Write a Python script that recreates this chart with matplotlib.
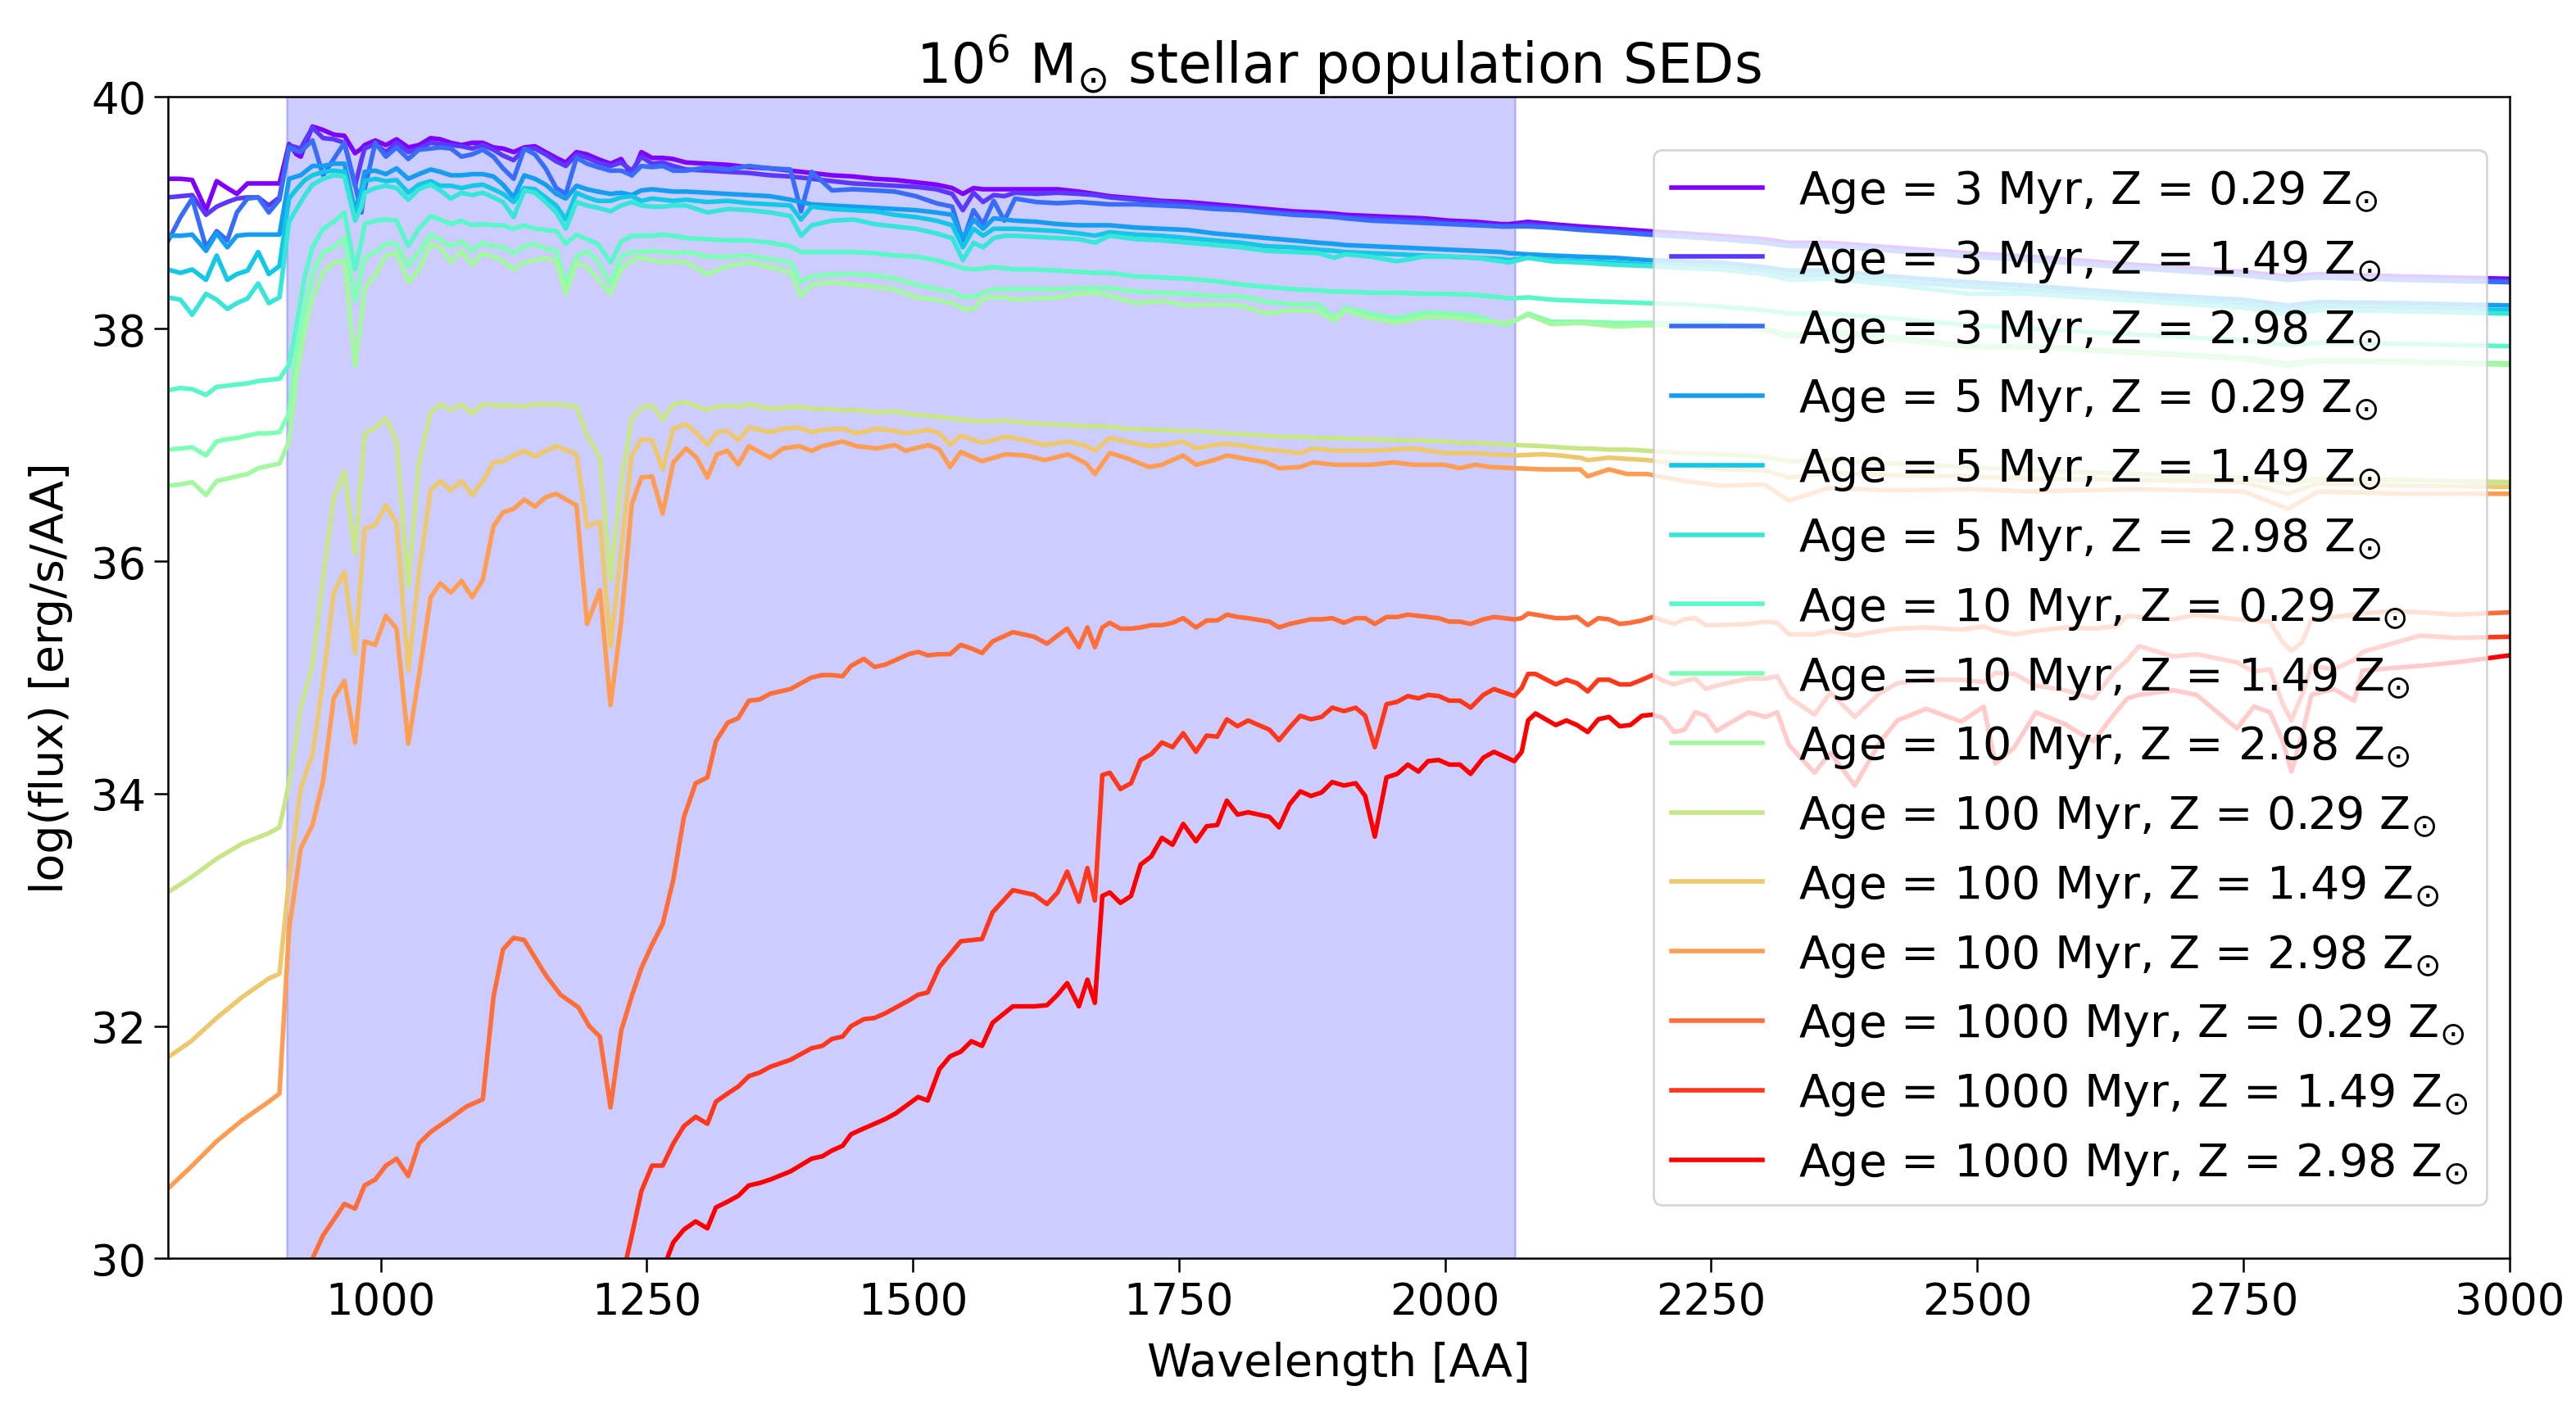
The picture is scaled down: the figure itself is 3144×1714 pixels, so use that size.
import numpy as np
import matplotlib
matplotlib.use("Agg")
import matplotlib.pyplot as plt

# ---------------- data ----------------
ages = [3, 3, 3, 5, 5, 5, 10, 10, 10, 100, 100, 100, 1000, 1000, 1000]
metals = ["0.29", "1.49", "2.98"] * 5

# wavelength grid for the young (3-10 Myr) populations
wl_young = [800, 812, 823, 836, 846, 856, 865, 875, 885, 895,
            905, 914, 921, 925, 929, 936, 946, 956, 966, 976,
            982, 985, 995, 1005, 1015, 1026, 1036, 1047, 1056, 1066,
            1076, 1086, 1096, 1106, 1115, 1125, 1135, 1145, 1155, 1165,
            1174, 1184, 1194, 1204, 1216, 1226, 1236, 1245, 1255, 1265,
            1275, 1287, 1307, 1326, 1346, 1366, 1385, 1395, 1405, 1424,
            1444, 1464, 1483, 1503, 1522, 1537, 1547, 1557, 1566, 1576,
            1586, 1596, 1616, 1636, 1656, 1671, 1685, 1710, 1734, 1758,
            1783, 1808, 1832, 1857, 1881, 1896, 1906, 1930, 1955, 1980,
            2004, 2029, 2053, 2060, 2078, 2100, 2127, 2160, 2190, 2225,
            2258, 2300, 2323, 2360, 2420, 2493, 2550, 2650, 2750, 2792,
            2820, 2900, 3000]

flux_3myr_029 = [39.29, 39.29, 39.28, 39.02, 39.27, 39.21, 39.16, 39.25, 39.25, 39.25,
                 39.25, 39.59, 39.50, 39.48, 39.58, 39.74, 39.71, 39.67, 39.66, 39.51,
                 39.55, 39.58, 39.62, 39.58, 39.63, 39.56, 39.58, 39.64, 39.63, 39.60,
                 39.58, 39.60, 39.60, 39.56, 39.55, 39.52, 39.56, 39.57, 39.52, 39.47,
                 39.43, 39.52, 39.50, 39.46, 39.42, 39.46, 39.32, 39.52, 39.47, 39.47,
                 39.46, 39.43, 39.42, 39.41, 39.39, 39.38, 39.36, 39.35, 39.34, 39.32,
                 39.31, 39.29, 39.28, 39.26, 39.24, 39.21, 39.16, 39.21, 39.20, 39.20,
                 39.20, 39.20, 39.20, 39.20, 39.18, 39.16, 39.14, 39.12, 39.10, 39.09,
                 39.07, 39.05, 39.03, 39.01, 39.00, 38.99, 38.98, 38.97, 38.96, 38.95,
                 38.93, 38.92, 38.90, 38.90, 38.92, 38.90, 38.88, 38.86, 38.84, 38.82,
                 38.80, 38.77, 38.74, 38.74, 38.70, 38.65, 38.62, 38.55, 38.49, 38.45,
                 38.47, 38.45, 38.43]
flux_3myr_149 = [39.13, 39.14, 39.15, 38.98, 39.05, 39.09, 39.12, 39.13, 39.13, 39.06,
                 39.13, 39.58, 39.56, 39.55, 39.62, 39.73, 39.64, 39.63, 39.60, 39.23,
                 39.45, 39.55, 39.59, 39.52, 39.60, 39.52, 39.55, 39.60, 39.59, 39.58,
                 39.57, 39.55, 39.58, 39.54, 39.49, 39.45, 39.55, 39.55, 39.50, 39.44,
                 39.40, 39.50, 39.47, 39.43, 39.40, 39.43, 39.36, 39.48, 39.42, 39.43,
                 39.40, 39.37, 39.36, 39.35, 39.34, 39.32, 39.31, 39.30, 39.29, 39.27,
                 39.25, 39.24, 39.23, 39.22, 39.20, 39.16, 39.02, 39.17, 39.09, 39.15,
                 39.14, 39.17, 39.16, 39.17, 39.16, 39.15, 39.13, 39.11, 39.09, 39.07,
                 39.05, 39.03, 39.01, 38.99, 38.98, 38.97, 38.96, 38.95, 38.94, 38.93,
                 38.91, 38.90, 38.88, 38.88, 38.90, 38.88, 38.86, 38.84, 38.82, 38.80,
                 38.78, 38.75, 38.72, 38.72, 38.68, 38.63, 38.60, 38.53, 38.47, 38.43,
                 38.45, 38.43, 38.41]
flux_3myr_298 = [38.75, 38.96, 39.12, 38.70, 38.84, 38.76, 39.00, 39.12, 39.13, 39.00,
                 39.11, 39.56, 39.53, 39.52, 39.56, 39.62, 39.32, 39.46, 39.60, 39.24,
                 39.00, 39.20, 39.60, 39.48, 39.56, 39.46, 39.54, 39.55, 39.56, 39.55,
                 39.48, 39.50, 39.54, 39.48, 39.38, 39.29, 39.55, 39.50, 39.38, 39.21,
                 39.16, 39.47, 39.42, 39.39, 39.36, 39.36, 39.32, 39.40, 39.39, 39.40,
                 39.36, 39.36, 39.39, 39.37, 39.40, 39.38, 39.37, 39.01, 39.35, 39.19,
                 39.20, 39.19, 39.18, 39.14, 39.08, 39.05, 38.75, 39.02, 38.90, 39.10,
                 38.93, 39.12, 39.09, 39.08, 39.09, 39.08, 39.07, 39.07, 39.06, 39.05,
                 39.03, 39.02, 39.00, 38.98, 38.97, 38.96, 38.95, 38.93, 38.92, 38.91,
                 38.90, 38.89, 38.88, 38.88, 38.88, 38.87, 38.85, 38.83, 38.81, 38.79,
                 38.77, 38.74, 38.71, 38.71, 38.67, 38.62, 38.59, 38.52, 38.46, 38.42,
                 38.44, 38.42, 38.40]
flux_5myr_029 = [38.80, 38.80, 38.81, 38.67, 38.82, 38.70, 38.80, 38.81, 38.81, 38.81,
                 38.81, 39.29, 39.31, 39.32, 39.35, 39.40, 39.40, 39.42, 39.42, 39.01,
                 39.20, 39.35, 39.36, 39.33, 39.38, 39.29, 39.33, 39.37, 39.35, 39.32,
                 39.32, 39.33, 39.33, 39.31, 39.24, 39.13, 39.32, 39.29, 39.24, 39.16,
                 39.12, 39.23, 39.20, 39.18, 39.16, 39.17, 39.15, 39.19, 39.20, 39.19,
                 39.18, 39.18, 39.17, 39.16, 39.15, 39.14, 39.11, 39.09, 39.07, 39.06,
                 39.05, 39.04, 39.03, 39.02, 39.00, 38.98, 38.78, 38.94, 38.86, 38.95,
                 38.94, 38.93, 38.92, 38.90, 38.89, 38.89, 38.89, 38.87, 38.86, 38.85,
                 38.82, 38.80, 38.78, 38.76, 38.74, 38.73, 38.72, 38.71, 38.70, 38.69,
                 38.68, 38.67, 38.66, 38.65, 38.64, 38.63, 38.62, 38.61, 38.59, 38.58,
                 38.57, 38.53, 38.50, 38.50, 38.45, 38.40, 38.37, 38.30, 38.25, 38.20,
                 38.23, 38.22, 38.20]
flux_5myr_149 = [38.51, 38.48, 38.51, 38.42, 38.63, 38.42, 38.47, 38.50, 38.66, 38.47,
                 38.54, 39.12, 39.20, 39.24, 39.28, 39.32, 39.35, 39.36, 39.35, 38.97,
                 39.15, 39.27, 39.29, 39.27, 39.28, 39.17, 39.24, 39.27, 39.23, 39.23,
                 39.21, 39.23, 39.24, 39.20, 39.16, 39.09, 39.21, 39.20, 39.13, 39.06,
                 38.94, 39.17, 39.13, 39.10, 39.10, 39.13, 39.14, 39.10, 39.12, 39.11,
                 39.10, 39.11, 39.09, 39.10, 39.08, 39.07, 39.06, 38.94, 39.05, 39.03,
                 39.02, 39.01, 38.98, 38.96, 38.93, 38.89, 38.70, 38.86, 38.80, 38.86,
                 38.86, 38.86, 38.85, 38.84, 38.82, 38.80, 38.83, 38.81, 38.80, 38.78,
                 38.76, 38.74, 38.71, 38.70, 38.68, 38.67, 38.66, 38.65, 38.64, 38.63,
                 38.62, 38.61, 38.60, 38.59, 38.61, 38.59, 38.58, 38.57, 38.55, 38.54,
                 38.53, 38.49, 38.46, 38.46, 38.41, 38.36, 38.33, 38.27, 38.21, 38.16,
                 38.19, 38.18, 38.16]
flux_5myr_298 = [38.27, 38.25, 38.12, 38.30, 38.25, 38.17, 38.22, 38.26, 38.39, 38.22,
                 38.27, 38.92, 39.03, 39.09, 39.15, 39.24, 39.29, 39.32, 39.31, 38.93,
                 39.05, 39.17, 39.21, 39.23, 39.21, 39.11, 39.20, 39.24, 39.19, 39.12,
                 39.17, 39.15, 39.17, 39.13, 39.09, 38.96, 39.19, 39.17, 39.09, 39.00,
                 38.86, 39.09, 39.06, 39.04, 39.01, 39.06, 39.09, 39.06, 39.05, 39.05,
                 39.06, 39.06, 39.00, 39.03, 39.02, 39.00, 38.97, 38.80, 38.89, 38.93,
                 38.94, 38.90, 38.88, 38.86, 38.82, 38.78, 38.59, 38.74, 38.70, 38.78,
                 38.80, 38.80, 38.79, 38.78, 38.77, 38.74, 38.80, 38.77, 38.76, 38.74,
                 38.72, 38.70, 38.67, 38.66, 38.65, 38.61, 38.64, 38.62, 38.58, 38.62,
                 38.62, 38.61, 38.58, 38.57, 38.61, 38.58, 38.57, 38.55, 38.54, 38.52,
                 38.51, 38.47, 38.42, 38.43, 38.38, 38.30, 38.30, 38.24, 38.18, 38.12,
                 38.16, 38.15, 38.13]
flux_10myr_029 = [37.47, 37.49, 37.48, 37.43, 37.50, 37.51, 37.52, 37.53, 37.55, 37.56,
                  37.57, 37.69, 38.03, 38.25, 38.46, 38.70, 38.86, 38.92, 39.00, 38.51,
                  38.75, 38.90, 38.93, 38.94, 38.93, 38.71, 38.86, 38.97, 38.94, 38.90,
                  38.93, 38.89, 38.90, 38.89, 38.89, 38.86, 38.89, 38.86, 38.85, 38.84,
                  38.73, 38.81, 38.77, 38.73, 38.57, 38.75, 38.80, 38.80, 38.80, 38.81,
                  38.80, 38.78, 38.77, 38.76, 38.76, 38.74, 38.71, 38.66, 38.66, 38.66,
                  38.66, 38.65, 38.63, 38.62, 38.59, 38.55, 38.52, 38.51, 38.52, 38.53,
                  38.52, 38.51, 38.51, 38.50, 38.49, 38.48, 38.48, 38.45, 38.44, 38.43,
                  38.41, 38.38, 38.36, 38.34, 38.33, 38.32, 38.32, 38.31, 38.31, 38.30,
                  38.30, 38.29, 38.27, 38.26, 38.27, 38.25, 38.24, 38.23, 38.22, 38.21,
                  38.19, 38.16, 38.13, 38.13, 38.09, 38.03, 38.00, 37.95, 37.90, 37.86,
                  37.88, 37.87, 37.85]
flux_10myr_149 = [36.96, 36.97, 36.98, 36.91, 37.03, 37.05, 37.06, 37.08, 37.10, 37.10,
                  37.11, 37.27, 37.81, 38.00, 38.19, 38.47, 38.66, 38.70, 38.78, 38.24,
                  38.50, 38.61, 38.66, 38.73, 38.73, 38.54, 38.66, 38.81, 38.77, 38.71,
                  38.75, 38.67, 38.74, 38.71, 38.70, 38.65, 38.71, 38.73, 38.69, 38.67,
                  38.38, 38.62, 38.67, 38.58, 38.39, 38.62, 38.66, 38.66, 38.67, 38.66,
                  38.65, 38.66, 38.62, 38.62, 38.63, 38.60, 38.57, 38.40, 38.45, 38.47,
                  38.47, 38.46, 38.43, 38.38, 38.34, 38.32, 38.27, 38.28, 38.31, 38.34,
                  38.34, 38.34, 38.34, 38.34, 38.35, 38.35, 38.35, 38.32, 38.31, 38.30,
                  38.28, 38.28, 38.23, 38.21, 38.21, 38.09, 38.18, 38.13, 38.09, 38.14,
                  38.13, 38.11, 38.04, 38.04, 38.13, 38.06, 38.06, 38.05, 38.05, 38.05,
                  38.05, 38.00, 37.95, 37.98, 37.93, 37.85, 37.85, 37.80, 37.75, 37.70,
                  37.73, 37.72, 37.70]
flux_10myr_298 = [36.65, 36.66, 36.68, 36.57, 36.69, 36.71, 36.73, 36.75, 36.80, 36.82,
                  36.84, 37.03, 37.60, 37.80, 38.00, 38.27, 38.48, 38.57, 38.58, 37.68,
                  38.10, 38.35, 38.46, 38.63, 38.65, 38.40, 38.51, 38.73, 38.70, 38.57,
                  38.67, 38.55, 38.65, 38.62, 38.58, 38.51, 38.57, 38.59, 38.61, 38.58,
                  38.30, 38.57, 38.53, 38.43, 38.30, 38.51, 38.59, 38.61, 38.59, 38.57,
                  38.58, 38.57, 38.47, 38.54, 38.57, 38.53, 38.48, 38.28, 38.38, 38.40,
                  38.38, 38.36, 38.34, 38.27, 38.25, 38.22, 38.17, 38.17, 38.26, 38.27,
                  38.27, 38.25, 38.26, 38.27, 38.30, 38.31, 38.28, 38.22, 38.24, 38.20,
                  38.21, 38.20, 38.13, 38.16, 38.15, 38.07, 38.16, 38.09, 38.05, 38.10,
                  38.10, 38.07, 38.05, 38.05, 38.12, 38.04, 38.05, 38.02, 38.03, 38.03,
                  38.03, 37.99, 37.93, 37.96, 37.91, 37.84, 37.84, 37.79, 37.74, 37.68,
                  37.72, 37.71, 37.69]

# wavelength grid for the 100 Myr populations
wl_mid = [800, 822, 846, 870, 895, 905, 914, 925, 936, 946,
          956, 966, 976, 985, 995, 1005, 1015, 1026, 1036, 1047,
          1056, 1066, 1076, 1086, 1096, 1106, 1115, 1125, 1135, 1145,
          1155, 1165, 1184, 1194, 1206, 1216, 1226, 1236, 1245, 1255,
          1265, 1275, 1287, 1297, 1307, 1316, 1326, 1336, 1346, 1366,
          1378, 1393, 1405, 1415, 1434, 1447, 1466, 1483, 1493, 1515,
          1525, 1535, 1545, 1565, 1587, 1606, 1624, 1646, 1663, 1671,
          1685, 1700, 1722, 1734, 1754, 1766, 1783, 1795, 1813, 1832,
          1844, 1864, 1876, 1896, 1930, 1952, 1970, 1999, 2014, 2028,
          2043, 2065, 2092, 2107, 2127, 2134, 2154, 2171, 2190, 2225,
          2258, 2300, 2323, 2360, 2420, 2493, 2550, 2650, 2750, 2792,
          2820, 2900, 3000]

flux_100myr_029 = [33.15, 33.28, 33.44, 33.57, 33.66, 33.71, 34.09, 34.74, 35.10, 35.86,
                   36.55, 36.77, 36.06, 37.10, 37.15, 37.23, 37.03, 35.78, 36.84, 37.28,
                   37.35, 37.30, 37.35, 37.27, 37.35, 37.34, 37.34, 37.34, 37.33, 37.35,
                   37.35, 37.35, 37.33, 37.08, 36.89, 35.84, 36.68, 37.23, 37.32, 37.34,
                   37.22, 37.35, 37.37, 37.33, 37.30, 37.33, 37.34, 37.33, 37.35, 37.31,
                   37.32, 37.33, 37.31, 37.31, 37.30, 37.30, 37.28, 37.29, 37.27, 37.25,
                   37.24, 37.23, 37.22, 37.20, 37.21, 37.19, 37.18, 37.17, 37.16, 37.16,
                   37.16, 37.14, 37.13, 37.13, 37.12, 37.12, 37.11, 37.10, 37.09, 37.08,
                   37.07, 37.07, 37.06, 37.06, 37.05, 37.04, 37.04, 37.03, 37.02, 37.02,
                   37.01, 37.00, 36.99, 36.98, 36.97, 36.97, 36.96, 36.96, 36.95, 36.93,
                   36.92, 36.90, 36.86, 36.87, 36.84, 36.81, 36.78, 36.75, 36.72, 36.66,
                   36.71, 36.70, 36.68]
flux_100myr_149 = [31.73, 31.87, 32.07, 32.25, 32.41, 32.45, 33.26, 34.05, 34.34, 34.97,
                   35.73, 35.91, 35.21, 36.28, 36.31, 36.48, 36.33, 35.06, 35.90, 36.61,
                   36.69, 36.61, 36.69, 36.57, 36.69, 36.85, 36.86, 36.91, 36.95, 36.90,
                   36.95, 36.99, 36.92, 36.30, 36.34, 35.26, 36.10, 36.91, 37.05, 37.04,
                   36.79, 37.14, 37.18, 37.10, 37.00, 37.11, 37.12, 37.04, 37.15, 37.11,
                   37.14, 37.15, 37.11, 37.13, 37.14, 37.10, 37.14, 37.12, 37.10, 37.13,
                   37.10, 37.00, 37.08, 37.02, 37.07, 37.04, 37.00, 37.03, 36.99, 36.95,
                   37.06, 37.03, 36.99, 37.00, 37.03, 36.97, 37.00, 37.01, 36.99, 36.96,
                   36.95, 36.93, 36.97, 36.95, 36.95, 36.96, 36.97, 36.93, 36.93, 36.93,
                   36.92, 36.91, 36.92, 36.91, 36.89, 36.87, 36.89, 36.88, 36.87, 36.83,
                   36.79, 36.78, 36.72, 36.76, 36.74, 36.73, 36.71, 36.70, 36.68, 36.58,
                   36.67, 36.65, 36.64]
flux_100myr_298 = [30.60, 30.79, 31.01, 31.19, 31.35, 31.42, 32.83, 33.53, 33.73, 34.11,
                   34.82, 34.97, 34.44, 35.31, 35.28, 35.53, 35.42, 34.43, 35.01, 35.69,
                   35.81, 35.73, 35.83, 35.69, 35.84, 36.30, 36.42, 36.45, 36.53, 36.47,
                   36.55, 36.58, 36.48, 35.46, 35.75, 34.76, 35.48, 36.49, 36.72, 36.73,
                   36.41, 36.85, 36.97, 36.89, 36.72, 36.92, 36.95, 36.83, 36.99, 36.89,
                   36.97, 36.99, 36.95, 36.99, 37.03, 36.99, 36.97, 37.00, 36.95, 37.00,
                   36.96, 36.81, 36.94, 36.86, 36.92, 36.91, 36.87, 36.92, 36.84, 36.75,
                   36.93, 36.89, 36.81, 36.83, 36.91, 36.83, 36.87, 36.91, 36.88, 36.85,
                   36.80, 36.81, 36.85, 36.83, 36.83, 36.85, 36.83, 36.83, 36.80, 36.83,
                   36.81, 36.80, 36.79, 36.79, 36.79, 36.73, 36.79, 36.75, 36.75, 36.69,
                   36.65, 36.66, 36.52, 36.63, 36.61, 36.62, 36.60, 36.62, 36.60, 36.45,
                   36.60, 36.58, 36.58]

# wavelength grid for the 1000 Myr populations
wl_old = [925, 936, 946, 966, 976, 985, 995, 1005, 1015, 1026,
          1036, 1047, 1066, 1081, 1096, 1106, 1115, 1125, 1135, 1155,
          1169, 1186, 1196, 1206, 1216, 1226, 1236, 1245, 1255, 1265,
          1275, 1285, 1296, 1307, 1315, 1326, 1336, 1346, 1356, 1366,
          1385, 1405, 1415, 1424, 1434, 1442, 1454, 1464, 1474, 1484,
          1496, 1505, 1514, 1525, 1535, 1545, 1555, 1565, 1575, 1594,
          1614, 1626, 1636, 1645, 1656, 1664, 1671, 1678, 1685, 1695,
          1705, 1714, 1724, 1734, 1744, 1754, 1766, 1776, 1786, 1795,
          1805, 1815, 1835, 1844, 1854, 1864, 1874, 1884, 1894, 1905,
          1916, 1925, 1934, 1945, 1955, 1965, 1975, 1984, 1994, 2004,
          2014, 2024, 2036, 2046, 2065, 2072, 2078, 2085, 2104, 2114,
          2124, 2134, 2144, 2154, 2164, 2174, 2185, 2195, 2205, 2215,
          2225, 2235, 2245, 2255, 2285, 2301, 2312, 2323, 2347, 2362,
          2385, 2409, 2425, 2452, 2485, 2506, 2517, 2535, 2555, 2582,
          2609, 2630, 2641, 2652, 2684, 2706, 2744, 2760, 2775, 2787,
          2795, 2805, 2814, 2835, 2854, 2862, 2889, 2916, 2950, 3000]

flux_1000myr_029 = [29.60, 30.00, 30.20, 30.47, 30.43, 30.63, 30.68, 30.80, 30.86, 30.71,
                    30.99, 31.09, 31.21, 31.31, 31.37, 32.25, 32.66, 32.76, 32.74, 32.44,
                    32.27, 32.16, 32.00, 31.91, 31.30, 31.96, 32.26, 32.50, 32.70, 32.88,
                    33.26, 33.80, 34.09, 34.14, 34.45, 34.61, 34.65, 34.80, 34.81, 34.86,
                    34.90, 35.00, 35.02, 35.02, 35.01, 35.10, 35.16, 35.09, 35.11, 35.15,
                    35.20, 35.22, 35.19, 35.20, 35.20, 35.28, 35.25, 35.21, 35.31, 35.39,
                    35.35, 35.29, 35.36, 35.42, 35.26, 35.43, 35.26, 35.43, 35.47, 35.42,
                    35.42, 35.43, 35.45, 35.45, 35.47, 35.51, 35.43, 35.49, 35.49, 35.54,
                    35.52, 35.51, 35.48, 35.43, 35.46, 35.48, 35.50, 35.50, 35.51, 35.47,
                    35.51, 35.51, 35.46, 35.52, 35.52, 35.54, 35.53, 35.52, 35.51, 35.48,
                    35.48, 35.46, 35.50, 35.52, 35.50, 35.51, 35.55, 35.54, 35.51, 35.51,
                    35.52, 35.45, 35.51, 35.50, 35.46, 35.47, 35.49, 35.52, 35.49, 35.46,
                    35.50, 35.51, 35.45, 35.45, 35.46, 35.48, 35.47, 35.37, 35.37, 35.40,
                    35.36, 35.40, 35.42, 35.43, 35.41, 35.44, 35.40, 35.37, 35.40, 35.43,
                    35.42, 35.44, 35.53, 35.52, 35.50, 35.54, 35.50, 35.49, 35.48, 35.30,
                    35.23, 35.30, 35.50, 35.52, 35.54, 35.55, 35.57, 35.56, 35.54, 35.56]
flux_1000myr_149 = [27.00, 27.10, 27.20, 27.30, 27.30, 27.40, 27.50, 27.60, 27.60, 27.60,
                    27.70, 27.80, 27.90, 28.00, 28.10, 28.20, 28.30, 28.40, 28.50, 28.60,
                    28.70, 28.90, 29.00, 29.20, 29.40, 29.80, 30.20, 30.58, 30.80, 30.80,
                    30.99, 31.14, 31.22, 31.16, 31.35, 31.42, 31.48, 31.57, 31.60, 31.65,
                    31.71, 31.81, 31.83, 31.89, 31.91, 32.00, 32.06, 32.07, 32.11, 32.16,
                    32.22, 32.27, 32.29, 32.51, 32.62, 32.73, 32.74, 32.75, 32.98, 33.17,
                    33.13, 33.05, 33.15, 33.33, 33.07, 33.36, 33.08, 34.16, 34.18, 34.04,
                    34.09, 34.29, 34.34, 34.44, 34.40, 34.52, 34.36, 34.50, 34.49, 34.64,
                    34.58, 34.63, 34.55, 34.46, 34.57, 34.67, 34.64, 34.66, 34.74, 34.71,
                    34.74, 34.67, 34.40, 34.77, 34.79, 34.84, 34.82, 34.85, 34.84, 34.80,
                    34.80, 34.74, 34.85, 34.90, 34.84, 34.91, 35.03, 35.03, 34.94, 34.98,
                    34.95, 34.88, 34.98, 34.98, 34.94, 34.94, 34.98, 35.02, 34.97, 34.94,
                    34.97, 34.99, 34.90, 34.93, 34.99, 34.99, 35.01, 34.83, 34.68, 34.87,
                    34.66, 34.87, 34.95, 34.98, 34.98, 34.96, 35.04, 35.03, 34.93, 34.89,
                    34.82, 35.06, 35.15, 35.27, 35.18, 35.20, 35.13, 35.05, 35.07, 34.77,
                    34.63, 34.85, 35.10, 35.07, 35.15, 35.22, 35.29, 35.36, 35.34, 35.35]
flux_1000myr_298 = [26.50, 26.60, 26.70, 26.80, 26.80, 26.90, 27.00, 27.10, 27.10, 27.10,
                    27.20, 27.30, 27.40, 27.50, 27.60, 27.70, 27.80, 27.90, 28.00, 28.10,
                    28.20, 28.40, 28.50, 28.70, 28.90, 29.10, 29.30, 29.50, 29.70, 29.90,
                    30.14, 30.25, 30.32, 30.26, 30.44, 30.49, 30.54, 30.63, 30.65, 30.68,
                    30.75, 30.86, 30.88, 30.93, 30.97, 31.07, 31.12, 31.16, 31.20, 31.25,
                    31.33, 31.39, 31.36, 31.63, 31.74, 31.78, 31.87, 31.83, 32.03, 32.17,
                    32.17, 32.18, 32.27, 32.37, 32.17, 32.40, 32.20, 33.12, 33.15, 33.06,
                    33.12, 33.39, 33.46, 33.62, 33.56, 33.74, 33.59, 33.72, 33.73, 33.94,
                    33.82, 33.84, 33.80, 33.71, 33.91, 34.02, 33.98, 34.01, 34.10, 34.07,
                    34.09, 33.98, 33.63, 34.14, 34.17, 34.25, 34.19, 34.28, 34.29, 34.25,
                    34.25, 34.17, 34.31, 34.36, 34.28, 34.36, 34.63, 34.69, 34.59, 34.63,
                    34.59, 34.53, 34.64, 34.66, 34.58, 34.59, 34.67, 34.68, 34.65, 34.53,
                    34.55, 34.70, 34.67, 34.54, 34.70, 34.66, 34.70, 34.42, 34.18, 34.35,
                    34.07, 34.45, 34.63, 34.73, 34.62, 34.75, 34.26, 34.40, 34.70, 34.60,
                    34.45, 34.70, 34.82, 34.85, 34.89, 34.85, 34.56, 34.75, 34.70, 34.45,
                    34.19, 34.50, 34.85, 34.90, 34.80, 35.06, 35.08, 35.10, 35.13, 35.19]

lyman_band = [912, 2066]

# ---------------- plot ----------------
plt.rcParams['font.family'] = ['DejaVu Sans']
plt.rcParams['font.size'] = 20

fig = plt.figure(figsize=(15.72, 8.575), dpi=200)
ax = fig.add_axes([0.0651, 0.1035, 0.9091, 0.8274])

series = [
    (wl_young, flux_3myr_029), (wl_young, flux_3myr_149), (wl_young, flux_3myr_298),
    (wl_young, flux_5myr_029), (wl_young, flux_5myr_149), (wl_young, flux_5myr_298),
    (wl_young, flux_10myr_029), (wl_young, flux_10myr_149), (wl_young, flux_10myr_298),
    (wl_mid, flux_100myr_029), (wl_mid, flux_100myr_149), (wl_mid, flux_100myr_298),
    (wl_old, flux_1000myr_029), (wl_old, flux_1000myr_149), (wl_old, flux_1000myr_298),
]
colors = plt.cm.rainbow(np.linspace(0, 1, len(series)))

ax.axvspan(lyman_band[0], lyman_band[1], color='blue', alpha=0.2, zorder=0)

for (wl, fl), age, z, c in zip(series, ages, metals, colors):
    ax.plot(wl, fl, color=c, lw=2.0,
            label=f"Age = {age} Myr, Z = {z} Z$_{{\\odot}}$")

ax.set_xlim(800, 3000)
ax.set_ylim(30, 40)
ax.set_xticks([1000, 1250, 1500, 1750, 2000, 2250, 2500, 2750, 3000])
ax.set_yticks([30, 32, 34, 36, 38, 40])
ax.tick_params(length=6, width=0.9, labelsize=19)
for s in ax.spines.values():
    s.set_linewidth(0.9)

ax.set_xlabel("Wavelength [AA]", fontsize=20, labelpad=8)
ax.set_ylabel("log(flux) [erg/s/AA]", fontsize=20, labelpad=8)
ax.set_title(r"10$^6$ M$_{\odot}$ stellar population SEDs", fontsize=24, pad=6)
ax.legend(loc='center right', fontsize=20)

fig.savefig("out.png", dpi=200)
